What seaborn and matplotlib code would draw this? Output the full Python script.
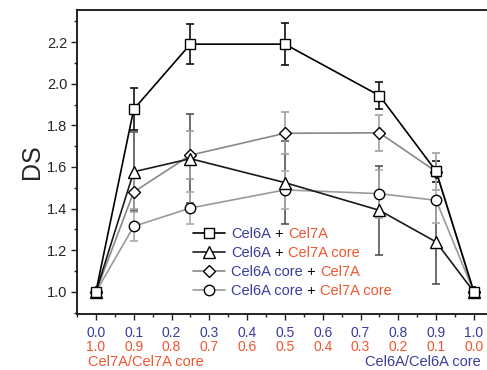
import matplotlib
matplotlib.use("Agg")
import matplotlib.pyplot as plt
from matplotlib.lines import Line2D
from matplotlib.ticker import MultipleLocator
import seaborn as sns
import pandas as pd
import numpy as np

# ---- data ----
x_frac = [0.0, 0.1, 0.25, 0.5, 0.75, 0.9, 1.0]
ds_sq = [1.0, 1.877, 2.19, 2.19, 1.943, 1.58, 1.0]
err_sq = [0.0, 0.10, 0.095, 0.10, 0.063, 0.05, 0.0]
ds_tri = [1.0, 1.577, 1.64, 1.525, 1.392, 1.24, 1.0]
err_tri = [0.0, 0.19, 0.215, 0.20, 0.215, 0.20, 0.0]
ds_dia = [1.0, 1.48, 1.657, 1.762, 1.764, 1.578, 1.0]
err_dia = [0.0, 0.08, 0.115, 0.10, 0.086, 0.09, 0.0]
ds_cir = [1.0, 1.315, 1.403, 1.49, 1.472, 1.44, 1.0]
err_cir = [0.0, 0.07, 0.075, 0.09, 0.115, 0.11, 0.0]

series_names = ["Cel6A + Cel7A", "Cel6A + Cel7A core",
                "Cel6A core + Cel7A", "Cel6A core + Cel7A core"]
label_parts = [["Cel6A", " + ", "Cel7A"],
               ["Cel6A", " + ", "Cel7A core"],
               ["Cel6A core", " + ", "Cel7A"],
               ["Cel6A core", " + ", "Cel7A core"]]
top_ticks = ["0.0", "0.1", "0.2", "0.3", "0.4", "0.5", "0.6", "0.7", "0.8", "0.9", "1.0"]
bottom_ticks = ["1.0", "0.9", "0.8", "0.7", "0.6", "0.5", "0.4", "0.3", "0.2", "0.1", "0.0"]

BLUE = "#3a3c9c"
ORANGE = "#f0552f"
part_colors = [BLUE, "black", ORANGE]

line_colors = ["#000000", "#1a1a1a", "#888888", "#9a9a9a"]
err_colors = ["#111111", "#555555", "#a0a0a0", "#aaaaaa"]
markers = ["s", "^", "D", "o"]
msizes = [7, 8, 6.5, 7.5]

sns.set_theme(style="ticks")
plt.rcParams["font.family"] = ["Liberation Sans", "DejaVu Sans"]

fig = plt.figure(figsize=(4.87, 3.70), dpi=100)
W, H = 487, 370
ax = fig.add_axes([77 / W, (370 - 314) / H, 415.8 / W, 304 / H])

all_ds = [ds_sq, ds_tri, ds_dia, ds_cir]
all_err = [err_sq, err_tri, err_dia, err_cir]

for i, (name, ds, er) in enumerate(zip(series_names, all_ds, all_err)):
    df = pd.DataFrame({"x": x_frac, "DS": ds})
    ax.errorbar(x_frac, ds, yerr=er, fmt="none", ecolor=err_colors[i],
                elinewidth=1.2, capsize=2.6, capthick=1.2, zorder=2 + i * 0.1)
    sns.lineplot(data=df, x="x", y="DS", ax=ax, color=line_colors[i],
                 linewidth=1.2, marker=markers[i], markersize=msizes[i],
                 markerfacecolor="white", markeredgecolor="black",
                 markeredgewidth=1.0, zorder=5 - i * 0.1, legend=False)

ax.set_xlim(-0.05, 1.05)
ax.set_ylim(0.894, 2.354)
ax.xaxis.set_major_locator(MultipleLocator(0.1))
ax.xaxis.set_minor_locator(MultipleLocator(0.05))
ax.yaxis.set_major_locator(MultipleLocator(0.2))
ax.yaxis.set_minor_locator(MultipleLocator(0.1))
ax.set_xticks(np.linspace(0, 1, 11))
ax.set_xticklabels(top_ticks, color=BLUE, fontsize=10)
ax.tick_params(axis="x", which="major", direction="out", length=4.5, width=1.0,
               pad=4, color="#222222")
ax.tick_params(axis="x", which="minor", direction="out", length=2.5, width=1.0,
               color="#222222")
ax.tick_params(axis="y", which="major", direction="out", length=4.5, width=1.0,
               pad=2.5, labelsize=10.5, color="#222222")
ax.tick_params(axis="y", which="minor", direction="out", length=2.5, width=1.0,
               color="#222222")
ax.set_yticks(np.arange(1.0, 2.21, 0.2))
ax.set_yticklabels([f"{v:.1f}" for v in np.arange(1.0, 2.21, 0.2)])
for sp in ax.spines.values():
    sp.set_linewidth(1.3)
    sp.set_color("#111111")
ax.set_xlabel("")
ax.set_ylabel("DS", fontsize=18, labelpad=2)

for xv, lab in zip(np.linspace(0, 1, 11), bottom_ticks):
    ax.annotate(lab, xy=(xv, 0), xycoords=("data", "axes fraction"),
                xytext=(0, -23.6), textcoords="offset points",
                ha="center", va="center", color=ORANGE, fontsize=10)

fig.text(88 / W, 1 - 362 / H, "Cel7A/Cel7A core", color=ORANGE, fontsize=10.5,
         ha="left", va="center")
fig.text(481 / W, 1 - 362 / H, "Cel6A/Cel6A core", color=BLUE, fontsize=10.5,
         ha="right", va="center")

handles = [Line2D([0], [0], color=line_colors[i], lw=1.2, marker=markers[i],
                  markersize=msizes[i], markerfacecolor="white",
                  markeredgecolor="black", markeredgewidth=1.0)
           for i in range(4)]
leg = ax.legend(handles, series_names, loc="upper left",
                bbox_to_anchor=(186 / W, 1 - 220 / H),
                bbox_transform=fig.transFigure, frameon=False, fontsize=10.5,
                borderpad=0, handlelength=2.2, handletextpad=0.4,
                labelspacing=0.33)
fig.canvas.draw()
renderer = fig.canvas.get_renderer()
positions = []
for txt in leg.get_texts():
    bb = txt.get_window_extent(renderer)
    positions.append((bb.x0, bb.y0))
for txt, parts, (px, py) in zip(leg.get_texts(), label_parts, positions):
    txt.set_text("")
    prev = None
    for j, (p, c) in enumerate(zip(parts, part_colors)):
        if j == 0:
            a = fig.text(px / fig.dpi / fig.get_figwidth(),
                         py / fig.dpi / fig.get_figheight(), p,
                         ha="left", va="bottom", color=c, fontsize=10.5)
        else:
            a = ax.annotate(p, xy=(1, 0), xycoords=prev, ha="left", va="bottom",
                            color=c, fontsize=10.5, annotation_clip=False)
        prev = a

fig.savefig("out.png", dpi=100)
